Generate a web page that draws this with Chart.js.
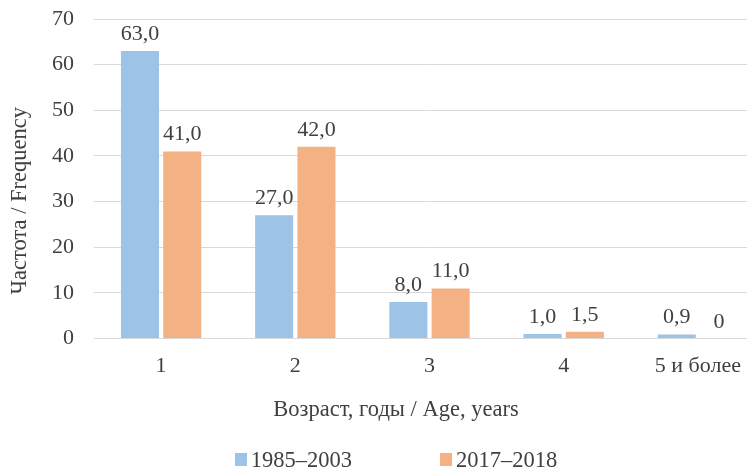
<!DOCTYPE html>
<html>
<head>
<meta charset="utf-8">
<script src="https://cdn.jsdelivr.net/npm/chart.js@4/dist/chart.umd.min.js"></script>
<style>
  html, body { margin: 0; padding: 0; overflow: hidden; background: #fff; }
  #wrap { position: relative; width: 792px; height: 467px; }
  #legend {
    position: absolute; left: 0; top: 449px; width: 792px;
    display: flex; justify-content: center; gap: 88px;
    font: 22.5px "Liberation Serif", "Times New Roman", serif; line-height: 22px; color: #404040;
    white-space: nowrap;
  }
  #legend .sw { display: inline-block; width: 12px; height: 13px; margin-right: 4px; vertical-align: 1px; }
</style>
</head>
<body>
<div id="wrap">
  <canvas id="chart" width="792" height="467"></canvas>
  <div id="legend"></div>
</div>
<script>
// Age groups and frequencies for the two observation periods
const categories = ['1', '2', '3', '4', '5 и более'];
const seriesNames = ['1985–2003', '2017–2018'];
const values1985 = [63.0, 27.0, 8.0, 1.0, 0.9];
const values2017 = [41.0, 42.0, 11.0, 1.5, 0];
const yTickValues = [0, 10, 20, 30, 40, 50, 60, 70];

const colors = ['#9DC3E6', '#F4B183'];
const textColor = '#404040';
const fontFamily = '"Liberation Serif", "Times New Roman", serif';
const xTitle = 'Возраст, годы / Age, years';
const yTitle = 'Частота / Frequency';

function fmt(v) {
  return v === 0 ? '0' : v.toFixed(1).replace('.', ',');
}

// value labels above each bar, plus the two axis captions
const annotate = {
  id: 'annotate',
  afterDatasetsDraw(chart) {
    const ctx = chart.ctx;
    const area = chart.chartArea;
    ctx.save();
    ctx.fillStyle = textColor;
    ctx.font = '22px ' + fontFamily;
    ctx.textAlign = 'center';
    ctx.textBaseline = 'alphabetic';
    chart.data.datasets.forEach((ds, i) => {
      const meta = chart.getDatasetMeta(i);
      meta.data.forEach((bar, j) => {
        ctx.fillText(fmt(ds.data[j]), bar.x, bar.y - 11);
      });
    });
    ctx.font = '22.5px ' + fontFamily;
    // horizontal axis caption, centred on the canvas
    ctx.fillText(xTitle, chart.width / 2, area.bottom + 77);
    // vertical axis caption
    ctx.translate(26, (area.top + area.bottom) / 2 + 22);
    ctx.rotate(-Math.PI / 2);
    ctx.fillText(yTitle, 0, 0);
    ctx.restore();
  }
};

new Chart(document.getElementById('chart'), {
  type: 'bar',
  data: {
    labels: categories,
    datasets: [
      { label: seriesNames[0], data: values1985, backgroundColor: colors[0] },
      { label: seriesNames[1], data: values2017, backgroundColor: colors[1] }
    ]
  },
  options: {
    responsive: false,
    animation: false,
    devicePixelRatio: 1,
    layout: { padding: { left: 32, top: 19, right: 27, bottom: 74 } },
    datasets: { bar: { categoryPercentage: 0.63, barPercentage: 0.9 } },
    plugins: { legend: { display: false }, tooltip: { enabled: false } },
    scales: {
      x: {
        grid: { display: false, drawTicks: false },
        border: { display: false },
        ticks: { color: textColor, font: { family: fontFamily, size: 22 }, padding: 14, maxRotation: 0 }
      },
      y: {
        min: 0, max: 70,
        afterBuildTicks(scale) { scale.ticks = yTickValues.map(v => ({ value: v })); },
        // the top label may overhang the plot; the layout padding alone sets the plot top
        afterFit(scale) { scale.paddingTop = 0; },
        grid: { color: '#D9D9D9', lineWidth: 1, drawTicks: false },
        border: { display: false },
        ticks: { color: textColor, font: { family: fontFamily, size: 22 }, padding: 20 }
      }
    }
  },
  plugins: [annotate]
});

// legend row beneath the chart
const legend = document.getElementById('legend');
seriesNames.forEach((name, i) => {
  const item = document.createElement('span');
  const sw = document.createElement('span');
  sw.className = 'sw';
  sw.style.background = colors[i];
  item.appendChild(sw);
  item.appendChild(document.createTextNode(name));
  legend.appendChild(item);
});
</script>
</body>
</html>
